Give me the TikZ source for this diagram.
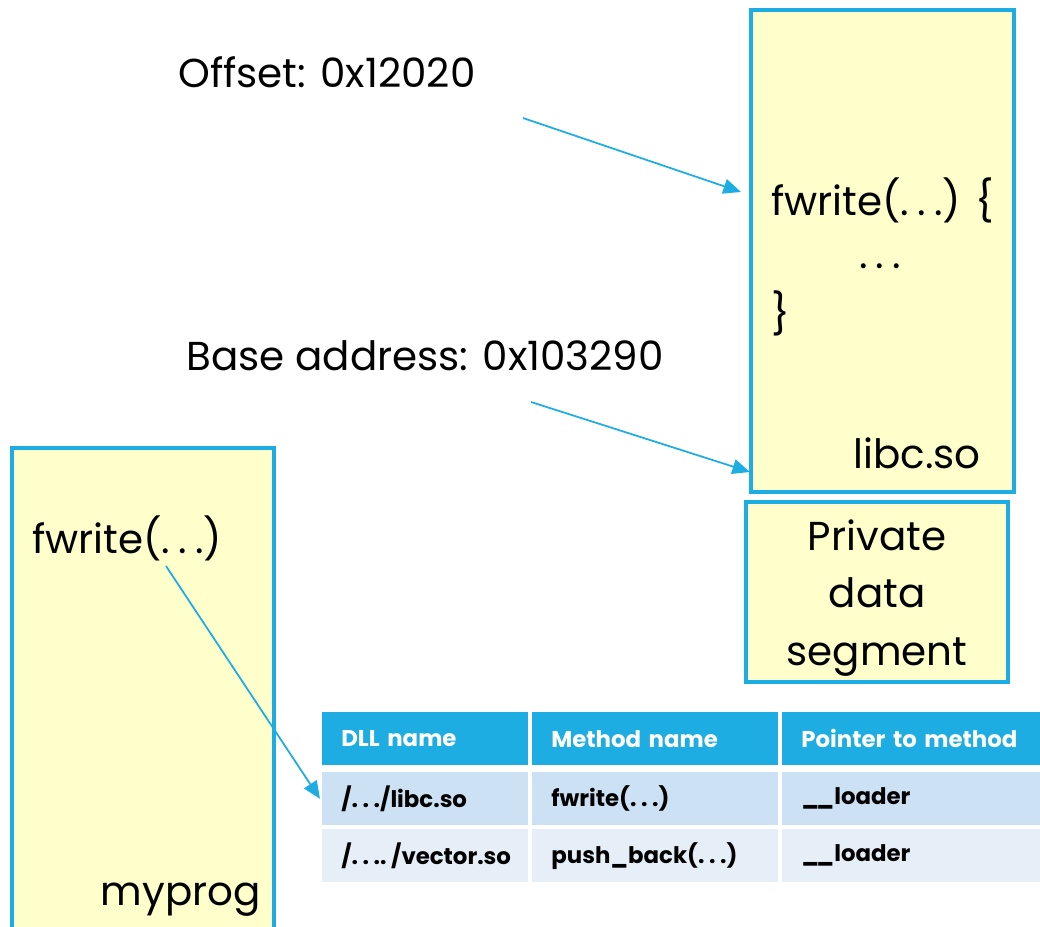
\documentclass[tikz,border=0pt]{standalone}
\usepackage{fontspec}
\setmainfont{Poppins}
\usetikzlibrary{arrows.meta}
\definecolor{linkblue}{HTML}{1EADE3}
\definecolor{memyellow}{HTML}{FFFFCC}
\definecolor{rowdark}{HTML}{CCE1F3}
\definecolor{rowlight}{HTML}{E6EFF8}
\newcommand\spdots{.\kern0.2em.\kern0.2em.}
\newcommand\dunder{\_\kern-0.12em\_}
\begin{document}
\begin{tikzpicture}[x=0.02cm, y=-0.02cm,
    membox/.style={draw=linkblue, line width=1.8pt, fill=memyellow},
    big/.style={font=\fontsize{23}{32.7}\selectfont, inner sep=0pt},
    link/.style={draw=linkblue, line width=1pt, -{Triangle[length=10pt,width=8.5pt]}},
    cell/.style={anchor=north west, minimum height=1.06cm, inner xsep=0.38cm, inner ysep=0pt,
        align=left, font=\fontsize{13}{15}\selectfont\bfseries},
    head/.style={cell, fill=linkblue, text=white}]
\clip (0,0) rectangle (1040,926);

% Memory images
\node[membox, minimum width=5.26cm, minimum height=9.64cm] (libc) at (882.5,251) {};
\node[membox, minimum width=5.24cm, minimum height=3.6cm] (priv) at (877,592) {};
\node[membox, minimum width=5.24cm, minimum height=10.4cm] (myprog) at (143,708) {};

% Text inside libc.so
\node[big, anchor=base west] (fdef) at (771,215) {fwrite(\spdots) \{};
\node[big, anchor=base] (fbody) at (880,268) {\spdots};
\node[big, anchor=base west] (fend) at (771,328) {\}};
\node[big, anchor=base west] (libcname) at (853,468) {libc.so};
\node[big, align=center] (privtext) at (877,598) {Private\\data\\segment};

% Text inside myprog
\node[big, anchor=base west] (fcall) at (32,553) {fwrite(\spdots)};
\node[big, anchor=base east] (progname) at (261,905) {myprog};

% Address labels
\node[big, anchor=base west] (offset) at (178,88) {Offset: 0x12020};
\node[big, anchor=base west] (baseaddr) at (186,370) {Base address: 0x103290};

% Import table: header
\foreach \x/\tw/\t [count=\i] in {322/3.36/DLL name, 532/4.16/Method name, 782/4.4/Pointer to method} {
    \node[head, text width=\tw cm] (h\i) at (\x,712) {\t};
}
% Import table: rows
\node[cell, fill=rowdark, text width=3.36cm] (r1c1) at (322,772) {/\spdots/libc.so};
\node[cell, fill=rowdark, text width=4.16cm] (r1c2) at (532,772) {fwrite(\spdots)};
\node[cell, fill=rowdark, text width=4.4cm] (r1c3) at (782,772) {\dunder loader};
\node[cell, fill=rowlight, text width=3.36cm] (r2c1) at (322,829) {/\spdots.\kern0.2em/vector.so};
\node[cell, fill=rowlight, text width=4.16cm] (r2c2) at (532,829) {push\_back(\spdots)};
\node[cell, fill=rowlight, text width=4.4cm] (r2c3) at (782,829) {\dunder loader};

% Arrows
\coordinate (offfrom) at (523,118);
\coordinate (offto) at (741,192);
\coordinate (basefrom) at (531,402);
\coordinate (baseto) at (750,472);
\coordinate (callfrom) at (166,566);
\draw[link] (offfrom) -- (offto);
\draw[link] (basefrom) -- (baseto);
\draw[link] (callfrom) -- ([xshift=-0.04cm]r1c1.west);

\end{tikzpicture}
\end{document}
